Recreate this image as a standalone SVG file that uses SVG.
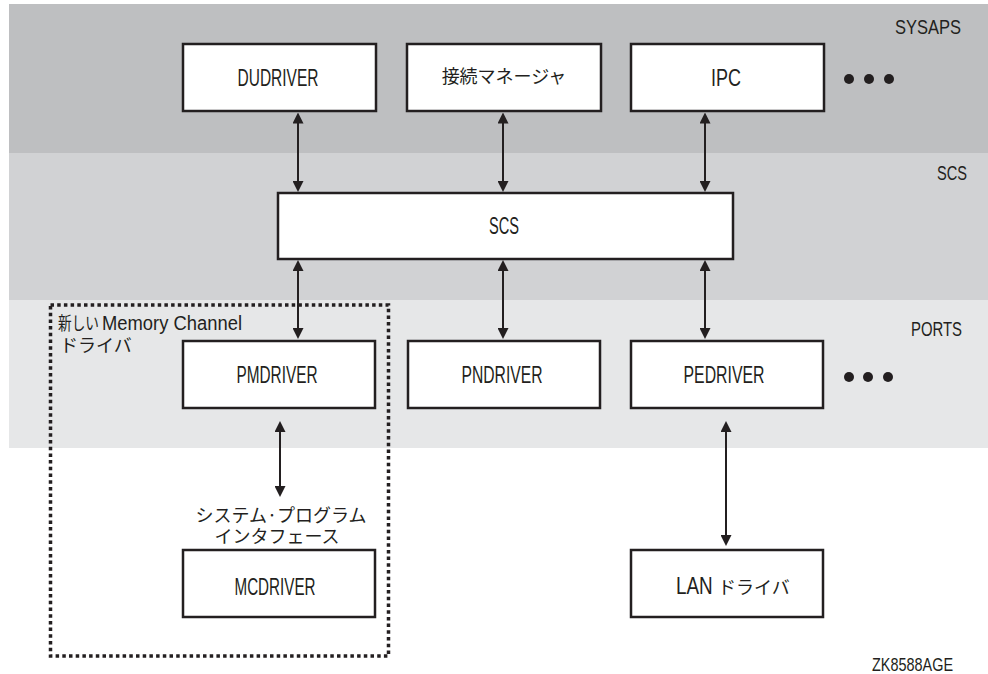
<svg xmlns="http://www.w3.org/2000/svg" width="988" height="674" viewBox="0 0 988 674">
<style>
.box{fill:#ffffff;stroke:#231f20;stroke-width:2.5}
.lat{font-family:"Liberation Sans",Arial,sans-serif;font-size:23px;fill:#231f20}
.cjk{font-family:"Noto Sans CJK JP","Noto Sans",sans-serif;font-size:18px;fill:#231f20}
.band{font-family:"Liberation Sans",Arial,sans-serif;font-size:21px;fill:#231f20}
.conn{stroke:#231f20;stroke-width:2;fill:none;marker-start:url(#ah);marker-end:url(#ah)}
.dot{fill:#231f20}
</style>
<defs>
<marker id="ah" markerUnits="userSpaceOnUse" viewBox="0 0 11 11" refX="3" refY="5.5" markerWidth="11" markerHeight="11" orient="auto-start-reverse">
<path d="M0,0 L11,5.5 L0,11 z" fill="#231f20"/>
</marker>
</defs>
<g id="bands">
<rect x="9" y="4" width="979" height="149" fill="#bebfc1"/>
<rect x="9" y="153" width="979" height="147" fill="#d1d2d4"/>
<rect x="9" y="300" width="979" height="148" fill="#e6e7e8"/>
<text class="band" x="895" y="34" textLength="66" lengthAdjust="spacingAndGlyphs">SYSAPS</text>
<text class="band" x="937" y="180" textLength="30" lengthAdjust="spacingAndGlyphs">SCS</text>
<text class="band" x="911" y="336" textLength="51" lengthAdjust="spacingAndGlyphs">PORTS</text>
</g>
<g id="memory-channel-group">
<rect x="50.5" y="305" width="338" height="351" fill="none" stroke="#231f20" stroke-width="3.5" stroke-dasharray="3.5 3.2"/>
<text class="cjk" x="58" y="330"><tspan textLength="44" lengthAdjust="spacingAndGlyphs">新しい </tspan><tspan class="lat" style="font-size:20px" x="102" textLength="140" lengthAdjust="spacingAndGlyphs">Memory Channel</tspan></text>
<text class="cjk" x="60" y="352">ドライバ</text>
</g>
<g id="connectors">
<path class="conn" d="M298,120.5 V184"/>
<path class="conn" d="M503,120.5 V184"/>
<path class="conn" d="M705,120.5 V184"/>
<path class="conn" d="M298,268 V331"/>
<path class="conn" d="M503,268 V331"/>
<path class="conn" d="M705,268 V331"/>
<path class="conn" d="M280,429 V489"/>
<path class="conn" d="M726,429 V538"/>
</g>
<g id="dudriver">
<rect class="box" x="183" y="44" width="193" height="67"/>
<text class="lat" x="278" y="86" text-anchor="middle" textLength="81" lengthAdjust="spacingAndGlyphs">DUDRIVER</text>
</g>
<g id="connection-manager">
<rect class="box" x="407" y="44" width="194" height="67"/>
<text class="cjk" x="504" y="83" text-anchor="middle">接続マネージャ</text>
</g>
<g id="ipc">
<rect class="box" x="631" y="44" width="193" height="67"/>
<text class="lat" x="726" y="86" text-anchor="middle" textLength="30" lengthAdjust="spacingAndGlyphs">IPC</text>
</g>
<g id="sysaps-more">
<circle class="dot" cx="849" cy="79" r="5"/>
<circle class="dot" cx="869" cy="79" r="5"/>
<circle class="dot" cx="889" cy="79" r="5"/>
</g>
<g id="scs">
<rect class="box" x="278" y="193" width="455" height="66"/>
<text class="lat" x="504" y="234" text-anchor="middle" textLength="30" lengthAdjust="spacingAndGlyphs">SCS</text>
</g>
<g id="pmdriver">
<rect class="box" x="183" y="341" width="192" height="67"/>
<text class="lat" x="277" y="383" text-anchor="middle" textLength="81" lengthAdjust="spacingAndGlyphs">PMDRIVER</text>
</g>
<g id="pndriver">
<rect class="box" x="408" y="341" width="192" height="67"/>
<text class="lat" x="502" y="383" text-anchor="middle" textLength="81" lengthAdjust="spacingAndGlyphs">PNDRIVER</text>
</g>
<g id="pedriver">
<rect class="box" x="631" y="341" width="192" height="67"/>
<text class="lat" x="724" y="383" text-anchor="middle" textLength="81" lengthAdjust="spacingAndGlyphs">PEDRIVER</text>
</g>
<g id="ports-more">
<circle class="dot" cx="849" cy="377" r="5"/>
<circle class="dot" cx="868" cy="377" r="5"/>
<circle class="dot" cx="888" cy="377" r="5"/>
</g>
<g id="spi-label">
<text class="cjk" x="281" y="522" text-anchor="middle">システム·プログラム</text>
<text class="cjk" x="277" y="543" text-anchor="middle">インタフェース</text>
</g>
<g id="mcdriver">
<rect class="box" x="183" y="550" width="192" height="67"/>
<text class="lat" x="275" y="595" text-anchor="middle" textLength="81" lengthAdjust="spacingAndGlyphs">MCDRIVER</text>
</g>
<g id="lan-driver">
<rect class="box" x="631" y="550" width="192" height="67"/>
<text class="cjk" x="676" y="594"><tspan class="lat" textLength="42" lengthAdjust="spacingAndGlyphs">LAN </tspan><tspan>ドライバ</tspan></text>
</g>
<text class="band" x="872" y="671" textLength="81" lengthAdjust="spacingAndGlyphs" style="font-size:19px">ZK8588AGE</text>
</svg>
